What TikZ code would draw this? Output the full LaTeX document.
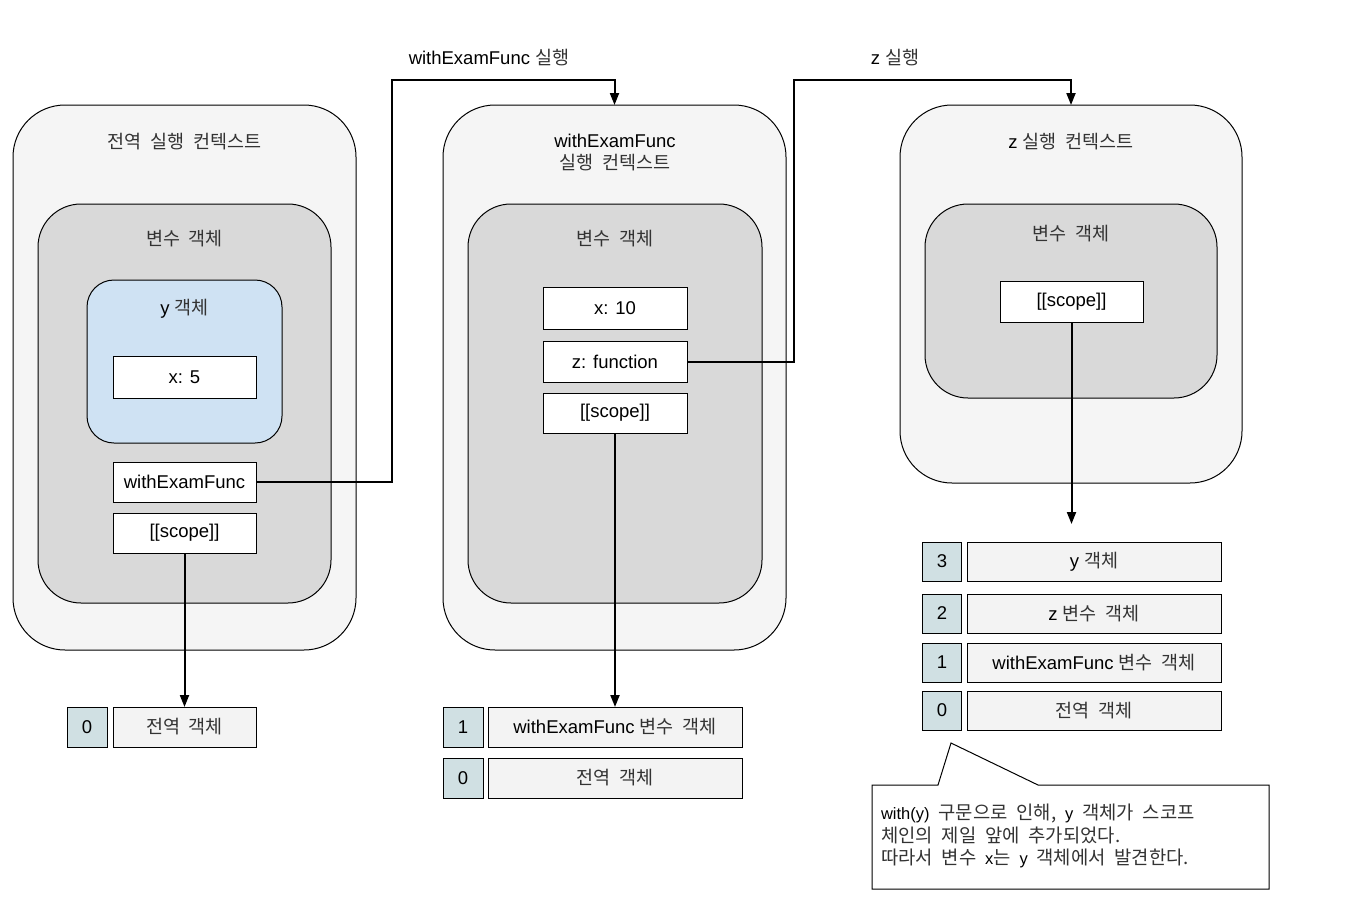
\documentclass[tikz,border=0pt]{standalone}
\usepackage{fontspec}
\setmainfont{Liberation Sans}
\newfontfamily\kr[WordSpace=2.1]{Noto Sans CJK KR}
\usetikzlibrary{arrows.meta}
\definecolor{outerfill}{HTML}{F5F5F5}
\definecolor{innerfill}{HTML}{D9D9D9}
\definecolor{bluefill}{HTML}{CFE2F3}
\definecolor{idxfill}{HTML}{D0E0E3}
\definecolor{stackfill}{HTML}{F3F3F3}
\definecolor{krtext}{HTML}{333333}
\newcommand{\K}[1]{{\kr\color{krtext}#1}}
\newcommand{\KC}[1]{{\fontsize{18.8}{22.5}\selectfont\kr\color{krtext}#1}}
\newcommand{\Lt}[1]{{\normalfont\fontsize{16.5}{22.5}\selectfont\color{black}#1}}
\begin{document}
\begin{tikzpicture}[x=1pt,y=-1pt,
  every node/.style={font=\fontsize{18.5}{21}\selectfont, inner sep=0pt, outer sep=0pt, align=center},
  ctxbox/.style={draw=black, line width=1pt, fill=outerfill, rounded corners=52pt},
  varbox/.style={draw=black, line width=1pt, fill=innerfill, rounded corners=43pt},
  ybox/.style={draw=black, line width=1pt, fill=bluefill, rounded corners=27pt},
  cell/.style={draw=black, line width=1pt, fill=white},
  idxcell/.style={draw=black, line width=1pt, fill=idxfill, minimum width=40pt, minimum height=40pt},
  stkcell/.style={draw=black, line width=1pt, fill=stackfill, minimum height=40pt},
  conn/.style={draw=black, line width=2pt},
  arr/.style={conn, -{Triangle[length=12pt,width=9pt]}},
  note/.style={font=\fontsize{16.5}{22.5}\selectfont, align=left, anchor=west}
]
\useasboundingbox (0,0) rectangle (1351,908);

% ---------- left: global context ----------
\node[ctxbox, minimum width=343pt, minimum height=545pt] (gctx) at (184.5,377.5) {};
\node (gctxt) at (184.5,142) {\K{전역 실행 컨텍스트}};
\node[varbox, minimum width=293pt, minimum height=399pt] (gvar) at (184.5,403.5) {};
\node (gvart) at (184.5,239) {\K{변수 객체}};
\node[ybox, minimum width=195pt, minimum height=163pt] (yobj) at (184.5,361.5) {};
\node (yobjt) at (184.5,309) {y \K{객체}};
\node[cell, minimum width=143pt, minimum height=42pt] (x5) at (184.5,377.5) {x: 5};
\node[cell, minimum width=143pt, minimum height=40pt] (wef) at (184.5,482) {withExamFunc};
\node[cell, minimum width=143pt, minimum height=40pt] (sc1) at (184.5,533) {[[scope]]};
\node[idxcell] (i0a) at (87,727) {0};
\node[stkcell, minimum width=143pt] (s0a) at (184.5,727) {\K{전역 객체}};

% ---------- middle: withExamFunc context ----------
\node[ctxbox, minimum width=343pt, minimum height=545pt] (wctx) at (614.5,377.5) {};
\node (wctxt) at (615,153) {withExamFunc\\[1pt]\K{실행 컨텍스트}};
\node[varbox, minimum width=294pt, minimum height=399pt] (wvar) at (615,403.5) {};
\node (wvart) at (615,239) {\K{변수 객체}};
\node[cell, minimum width=144pt, minimum height=42pt] (x10) at (615,308) {x: 10};
\node[cell, minimum width=144pt, minimum height=41pt] (zfn) at (615,361.5) {z: function};
\node[cell, minimum width=144pt, minimum height=40pt] (sc2) at (615,413) {[[scope]]};
\node[idxcell] (i1b) at (463,727) {1};
\node[stkcell, minimum width=254pt] (s1b) at (615,727) {withExamFunc \K{변수 객체}};
\node[idxcell] (i0b) at (463,778) {0};
\node[stkcell, minimum width=254pt] (s0b) at (615,778) {\K{전역 객체}};

% ---------- right: z context ----------
\node[ctxbox, minimum width=342pt, minimum height=378pt] (zctx) at (1071,294) {};
\node (zctxt) at (1071,142) {z \K{실행 컨텍스트}};
\node[varbox, minimum width=292pt, minimum height=194pt] (zvar) at (1071,301) {};
\node (zvart) at (1071,234) {\K{변수 객체}};
\node[cell, minimum width=143pt, minimum height=41pt] (sc3) at (1071.5,301.5) {[[scope]]};
\node[idxcell, minimum width=39pt, minimum height=39pt] (i3c) at (942,561.5) {3};
\node[stkcell, minimum width=254pt, minimum height=39pt] (s3c) at (1094,561.5) {y \K{객체}};
\node[idxcell, minimum width=39pt, minimum height=39pt] (i2c) at (942,613.5) {2};
\node[stkcell, minimum width=254pt, minimum height=39pt] (s2c) at (1094,613.5) {z \K{변수 객체}};
\node[idxcell, minimum width=39pt, minimum height=39pt] (i1c) at (942,662.5) {1};
\node[stkcell, minimum width=254pt, minimum height=39pt] (s1c) at (1094,662.5) {withExamFunc \K{변수 객체}};
\node[idxcell, minimum width=39pt, minimum height=39pt] (i0c) at (942,710.5) {0};
\node[stkcell, minimum width=254pt, minimum height=39pt] (s0c) at (1094,710.5) {\K{전역 객체}};

% ---------- connectors ----------
\coordinate (k1) at (392,80);
\coordinate (k2) at (794,80);
\coordinate (c3) at (1071.5,524);
\draw[arr] (wef.east) -| (k1) -| (wctx.north);
\draw[arr] (zfn.east) -| (k2) -| (zctx.north);
\draw[arr] (sc1.south) -- (s0a.north);
\draw[arr] (sc2.south) -- (s1b.north);
\draw[arr] (sc3.south) -- (c3);
\node (l1) at (489,58) {withExamFunc \K{실행}};
\node (l2) at (895,58) {z \K{실행}};

% ---------- callout ----------
\draw[line width=1pt, fill=white] (872,785) -- (938,785) -- (951,743) -- (1038,785) -- (1269,785) -- (1269,889) -- (872,889) -- cycle;
\node[note] (nt) at (881,836) {\KC{\Lt{with(y)} 구문으로 인해, \Lt{y} 객체가 스코프}\\\KC{체인의 제일 앞에 추가되었다.}\\\KC{따라서 변수 \Lt{x}는 \Lt{y} 객체에서 발견한다.}};
\end{tikzpicture}
\end{document}
